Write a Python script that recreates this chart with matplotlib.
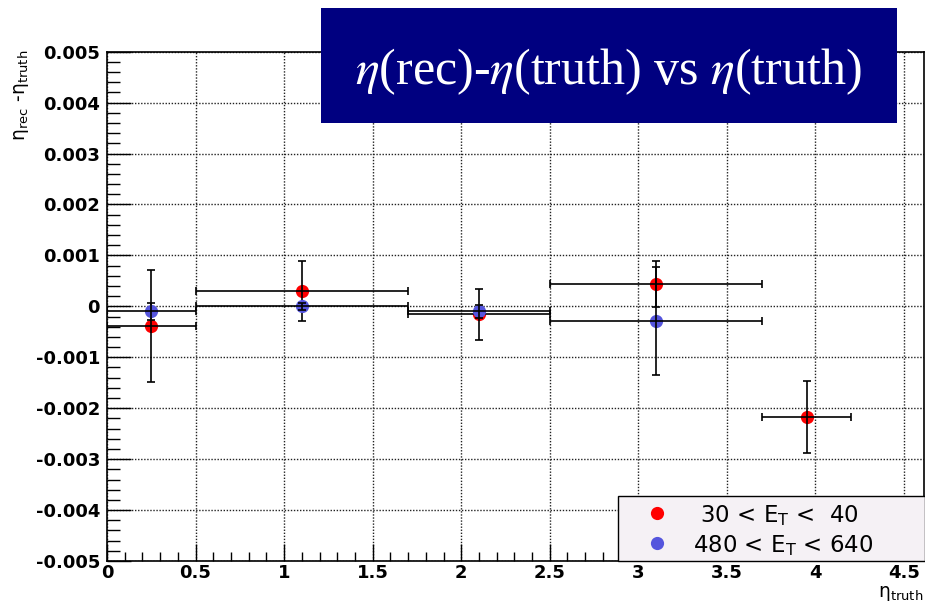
import matplotlib
matplotlib.use("Agg")
import matplotlib.pyplot as plt
from matplotlib.ticker import MultipleLocator, FixedLocator, FixedFormatter
from matplotlib.patches import Rectangle
from matplotlib.lines import Line2D

# ---- data ----
x_red = [0.25, 1.1, 2.1, 3.1, 3.95]
xerr_red = [0.25, 0.6, 0.4, 0.6, 0.25]
y_red = [-0.00039, 0.000295, -0.00016, 0.00044, -0.00217]
yerr_red = [0.0011, 0.00059, 0.0005, 0.00046, 0.0007]

x_blue = [0.25, 1.1, 2.1, 3.1]
xerr_blue = [0.25, 0.6, 0.4, 0.6]
y_blue = [-0.0001, 0.0, -0.0001, -0.00028]
yerr_blue = [0.00016, 0.00007, 0.00013, 0.00106]

xticks = [0, 0.5, 1, 1.5, 2, 2.5, 3, 3.5, 4, 4.5]
xtick_labels = ["0", "0.5", "1", "1.5", "2", "2.5", "3", "3.5", "4", "4.5"]
yticks = [-0.005, -0.004, -0.003, -0.002, -0.001, 0, 0.001, 0.002, 0.003, 0.004, 0.005]
ytick_labels = ["-0.005", "-0.004", "-0.003", "-0.002", "-0.001", "0",
                "0.001", "0.002", "0.003", "0.004", "0.005"]

label_red = r" 30 < $\mathrm{E_T}$ <  40"
label_blue = r"480 < $\mathrm{E_T}$ < 640"
title = r"$\eta$(rec)-$\eta$(truth) vs $\eta$(truth)"

RED = "#ff0000"
BLUE = "#5555dd"
MS = 9.5

W, H = 925, 614
fig = plt.figure(figsize=(W / 100, H / 100), dpi=100)
fig.patch.set_facecolor("white")

ax = fig.add_axes([107 / W, 1 - 561 / H, 817 / W, (561 - 51.7) / H])
ax.set_xlim(0, 4.613)
ax.set_ylim(-0.005, 0.005)

# grid
ax.xaxis.set_major_locator(FixedLocator(xticks))
ax.xaxis.set_major_formatter(FixedFormatter(xtick_labels))
ax.yaxis.set_major_locator(FixedLocator(yticks))
ax.yaxis.set_major_formatter(FixedFormatter(ytick_labels))
ax.xaxis.set_minor_locator(MultipleLocator(0.1))
ax.yaxis.set_minor_locator(MultipleLocator(0.0002))
ax.grid(True, which="major", color="#222222", linestyle=(0, (1, 1.2)), linewidth=1.0)
ax.set_axisbelow(True)

ax.tick_params(axis="both", which="both", direction="in", top=False, right=False,
               width=1.0, color="black")
ax.tick_params(axis="y", which="major", length=17.5, pad=5)
ax.tick_params(axis="y", which="minor", length=9.5)
ax.tick_params(axis="x", which="major", length=12, pad=2)
ax.tick_params(axis="x", which="minor", length=6.5)
for lab in ax.get_xticklabels() + ax.get_yticklabels():
    lab.set_fontweight("bold")
    lab.set_fontsize(13)
    lab.set_family("DejaVu Sans")

for s in ax.spines.values():
    s.set_linewidth(1.2)
    s.set_color("black")

# data
ax.plot(x_red, y_red, "o", color=RED, markersize=MS, markeredgewidth=0, zorder=3)
ax.errorbar(x_red, y_red, xerr=xerr_red, yerr=yerr_red, fmt="none", ecolor="black",
            elinewidth=1.2, capsize=2.6, capthick=1.2, zorder=4)
ax.plot(x_blue, y_blue, "o", color=BLUE, markersize=MS, markeredgewidth=0, zorder=5)
ax.errorbar(x_blue, y_blue, xerr=xerr_blue, yerr=yerr_blue, fmt="none", ecolor="black",
            elinewidth=1.2, capsize=2.6, capthick=1.2, zorder=6)

# axis titles
fig.text(22 / W, 1 - 50 / H, r"$\mathrm{\eta_{rec}}$ -$\mathrm{\eta_{truth}}$",
         rotation=90, ha="center", va="top", fontsize=13.5, family="DejaVu Sans")
fig.text(923 / W, 1 - 584 / H, r"$\mathrm{\eta_{truth}}$", ha="right", va="top",
         fontsize=13.5, family="DejaVu Sans")

# legend box (drawn manually, ROOT style)
fig.add_artist(Rectangle((618 / W, 1 - 561 / H), (924.5 - 618) / W, (561 - 496) / H,
                         transform=fig.transFigure, facecolor="#f5f1f5",
                         edgecolor="black", linewidth=1.0, zorder=10))
fig.add_artist(Line2D([657 / W], [1 - 513 / H], marker="o", color=RED, markersize=MS,
                      markeredgewidth=0, transform=fig.transFigure, zorder=11))
fig.add_artist(Line2D([657 / W], [1 - 543 / H], marker="o", color=BLUE, markersize=MS,
                      markeredgewidth=0, transform=fig.transFigure, zorder=11))
fig.text(693 / W, 1 - 513 / H, label_red, ha="left", va="center_baseline", fontsize=16.5,
         family="DejaVu Sans", zorder=12)
fig.text(693 / W, 1 - 543 / H, label_blue, ha="left", va="center_baseline", fontsize=16.5,
         family="DejaVu Sans", zorder=12)

# title box
fig.add_artist(Rectangle((321 / W, 1 - 123 / H), (897 - 321) / W, (123 - 8) / H,
                         transform=fig.transFigure, facecolor="#000080",
                         edgecolor="none", zorder=10))
fig.text(608 / W, 1 - 72 / H, title, ha="center", va="center", fontsize=36,
         color="white", family="Liberation Serif", math_fontfamily="stix", zorder=12)

fig.savefig("out.png", dpi=100)
